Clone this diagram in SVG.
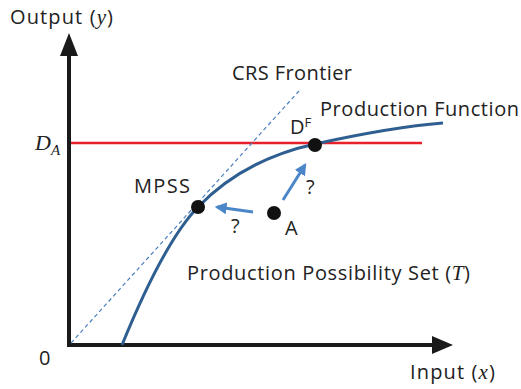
<svg xmlns="http://www.w3.org/2000/svg" width="521" height="389" viewBox="0 0 521 389">
  <style>
    .lbl { font-family: "Open Sans", "Liberation Sans", sans-serif; fill: #222; font-size: 20px; }
    .math { font-family: "Liberation Serif", serif; font-style: italic; fill: #222; }
    .axis { stroke: #1a1a1a; stroke-width: 4; fill: none; }
    .move { stroke: #4a86c8; stroke-width: 3; fill: none; marker-end: url(#tip); }
    .dot { fill: #111; }
  </style>
  <defs>
    <marker id="tip" viewBox="0 0 10 10" refX="8" refY="5" markerWidth="4" markerHeight="4" orient="auto" markerUnits="strokeWidth">
      <path d="M0,0 L10,5 L0,10 z" fill="#4a86c8"/>
    </marker>
  </defs>

  <rect width="521" height="389" fill="#fff"/>

  <!-- axes -->
  <g id="axes">
    <path class="axis" d="M69,345 V54"/>
    <path d="M60,56 L69,33 L78,56 z" fill="#1a1a1a"/>
    <path class="axis" d="M67,345 H434"/>
    <path d="M432,336 L453,345 L432,354 z" fill="#1a1a1a"/>
    <text class="lbl" x="10" y="24" textLength="103" lengthAdjust="spacing">Output (<tspan class="math" font-size="21">y</tspan>)</text>
    <text class="lbl" x="410" y="379" textLength="85" lengthAdjust="spacing">Input (<tspan class="math" font-size="21">x</tspan>)</text>
    <text class="lbl" x="39" y="365" font-size="22">0</text>
  </g>

  <!-- demand level -->
  <g id="demand">
    <line x1="71" y1="143" x2="422" y2="143" stroke="#e8202a" stroke-width="2.5"/>
    <text class="math" x="35" y="150" font-size="22">D<tspan font-size="15" dy="5">A</tspan></text>
  </g>

  <!-- CRS frontier -->
  <g id="crs">
    <line x1="71" y1="343" x2="299" y2="91" stroke="#4a7fc0" stroke-width="1.2" stroke-dasharray="4,3"/>
    <text class="lbl" x="232" y="80" textLength="120" lengthAdjust="spacing">CRS Frontier</text>
  </g>

  <!-- production function -->
  <g id="production-function">
    <path d="M122,345 C142,296 170,236 198,207 C226,178 265,155 315,144 C365,133 405,126 443,123" stroke="#2f5f90" stroke-width="3" fill="none"/>
    <text class="lbl" x="320" y="116" textLength="199" lengthAdjust="spacing">Production Function</text>
  </g>

  <!-- connectors -->
  <g id="connectors">
    <line class="move" x1="253" y1="212" x2="217" y2="207"/>
    <line class="move" x1="283" y1="200" x2="305" y2="165"/>
    <text class="lbl" x="231" y="233">?</text>
    <text class="lbl" x="306" y="194">?</text>
  </g>

  <g id="mpss">
    <circle class="dot" cx="198" cy="207" r="7"/>
    <text class="lbl" x="134" y="193" textLength="56" lengthAdjust="spacing">MPSS</text>
  </g>

  <g id="df">
    <circle class="dot" cx="315" cy="145" r="7"/>
    <text class="lbl" x="290" y="134">D<tspan font-size="13" dy="-7">F</tspan></text>
  </g>

  <g id="a">
    <circle class="dot" cx="274" cy="213" r="7"/>
    <text class="lbl" x="285" y="235">A</text>
  </g>

  <g id="pps">
    <text class="lbl" x="187" y="280" textLength="283" lengthAdjust="spacing">Production Possibility Set (<tspan class="math" font-size="21">T</tspan>)</text>
  </g>
</svg>
